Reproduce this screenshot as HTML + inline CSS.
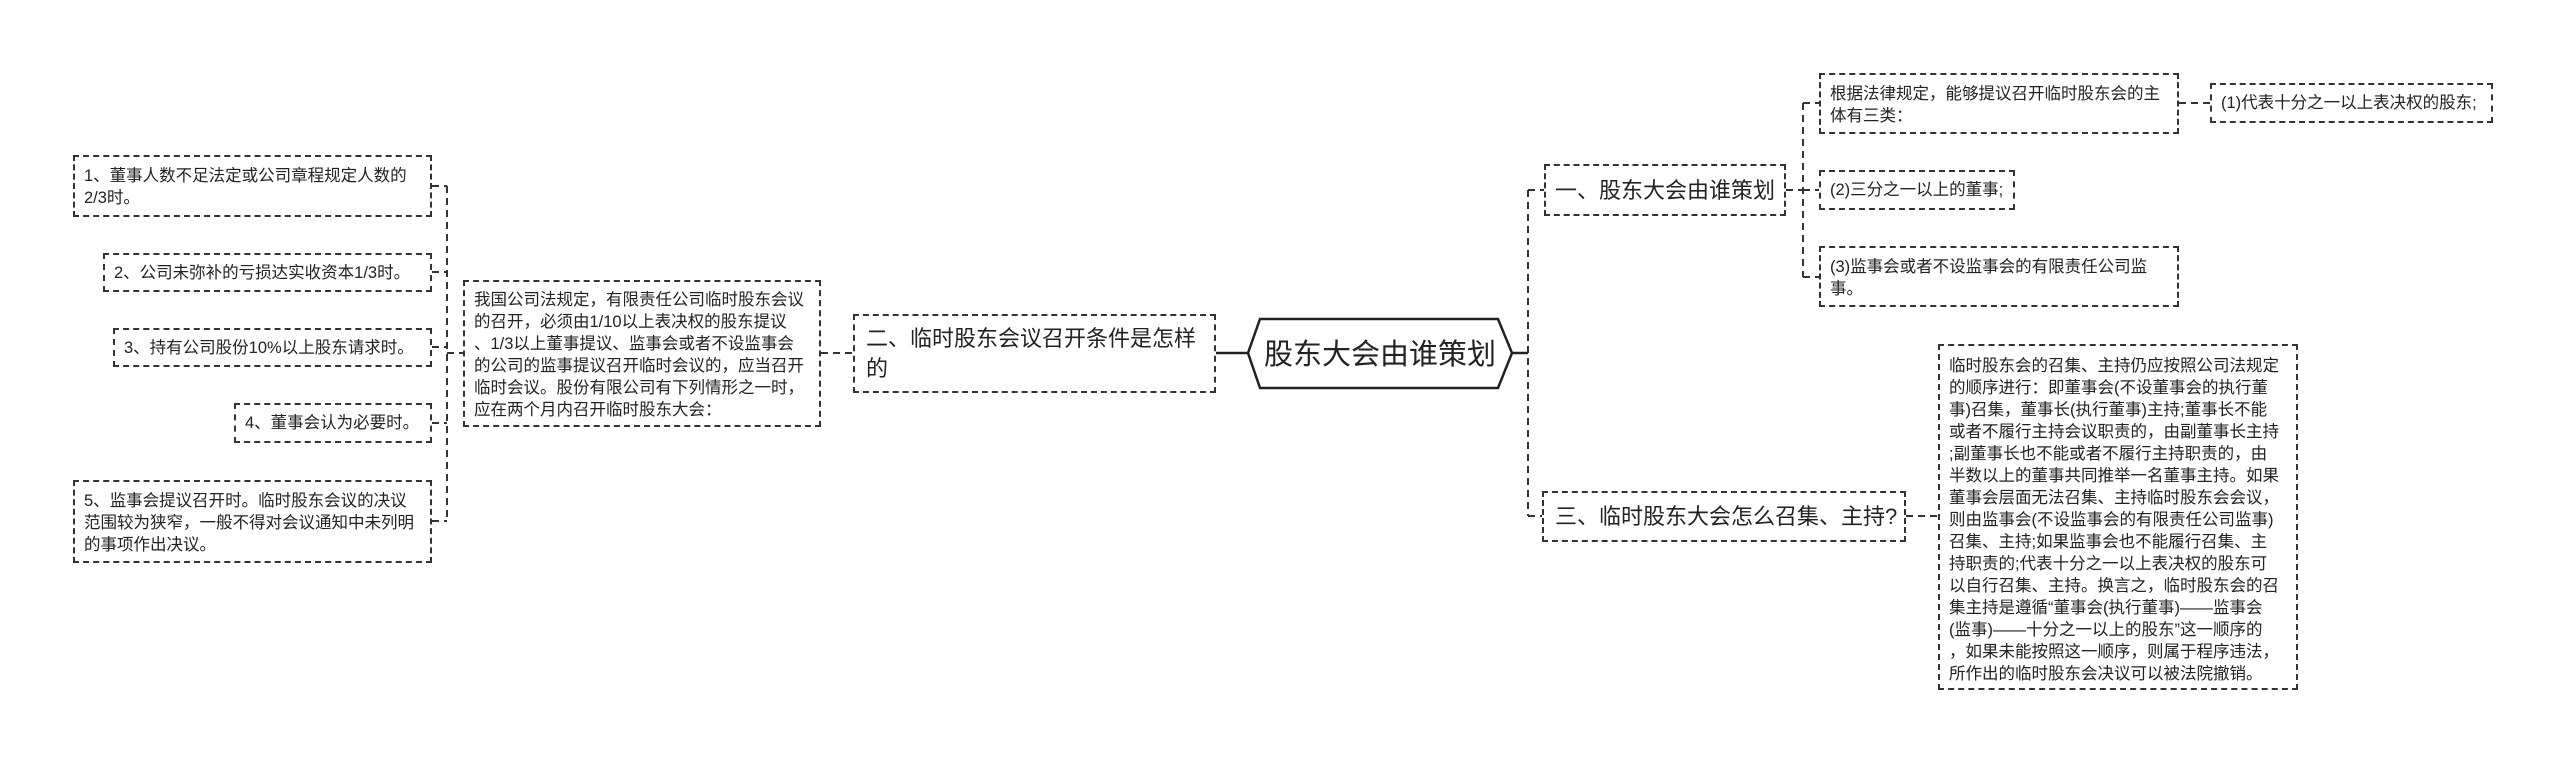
<!DOCTYPE html>
<html><head><meta charset="utf-8">
<style>
html,body{margin:0;padding:0;background:#fff;}
body{width:2560px;height:763px;position:relative;overflow:hidden;font-family:"Liberation Sans","Noto Sans CJK SC",sans-serif;color:#222;}
.b{position:absolute;box-sizing:border-box;border:2px dashed #333;background:#fff;font-size:16.5px;line-height:22px;padding:8px 9px;white-space:nowrap;}
.m{font-size:22px;line-height:30px;padding:10px 11px;}
svg{position:absolute;left:0;top:0;}
</style></head><body>
<svg width="2560" height="763">
<g stroke="#333" stroke-width="2" fill="none" stroke-dasharray="7,5">
<line x1="447" y1="186" x2="447" y2="521"/>
<line x1="432" y1="186" x2="447" y2="186"/>
<line x1="432" y1="272" x2="447" y2="272"/>
<line x1="432" y1="347" x2="447" y2="347"/>
<line x1="432" y1="423" x2="447" y2="423"/>
<line x1="432" y1="521" x2="447" y2="521"/>
<line x1="447" y1="353" x2="463" y2="353"/>
<line x1="821" y1="353" x2="853" y2="353"/>
<line x1="1528" y1="190" x2="1528" y2="516"/>
<line x1="1528" y1="190" x2="1544" y2="190"/>
<line x1="1528" y1="516" x2="1542" y2="516"/>
<line x1="1786" y1="190" x2="1803" y2="190"/>
<line x1="1803" y1="103" x2="1803" y2="277"/>
<line x1="1803" y1="103" x2="1819" y2="103"/>
<line x1="1803" y1="190" x2="1819" y2="190"/>
<line x1="1803" y1="277" x2="1819" y2="277"/>
<line x1="2179" y1="103" x2="2210" y2="103"/>
<line x1="1906" y1="516" x2="1938" y2="516"/>
</g>
<g stroke="#222" stroke-width="2.5" fill="none">
<line x1="1216" y1="353" x2="1248" y2="353"/>
<line x1="1512" y1="353" x2="1528" y2="353"/>
<polygon points="1248,353 1260,319 1498,319 1512,353 1498,388 1260,388" fill="#fff"/>
</g>
<text x="1380" y="364" font-size="29" text-anchor="middle" fill="#222" font-family="Liberation Sans, Noto Sans CJK SC, sans-serif">股东大会由谁策划</text>
</svg>

<div class="b" style="left:73px;top:155px;width:359px;height:62px;">1、董事人数不足法定或公司章程规定人数的<br>2/3时。</div>
<div class="b" style="left:103px;top:253px;width:329px;height:39px;padding-top:7px;">2、公司未弥补的亏损达实收资本1/3时。</div>
<div class="b" style="left:113px;top:328px;width:319px;height:39px;padding-top:7px;">3、持有公司股份10%以上股东请求时。</div>
<div class="b" style="left:234px;top:403px;width:198px;height:40px;padding-top:7px;">4、董事会认为必要时。</div>
<div class="b" style="left:73px;top:480px;width:359px;height:83px;">5、监事会提议召开时。临时股东会议的决议<br>范围较为狭窄，一般不得对会议通知中未列明<br>的事项作出决议。</div>
<div class="b" style="left:463px;top:280px;width:358px;height:147px;padding:7px 9px;">我国公司法规定，有限责任公司临时股东会议<br>的召开，必须由1/10以上表决权的股东提议<br>、1/3以上董事提议、监事会或者不设监事会<br>的公司的监事提议召开临时会议的，应当召开<br>临时会议。股份有限公司有下列情形之一时，<br>应在两个月内召开临时股东大会：</div>
<div class="b m" style="left:853px;top:314px;width:363px;height:79px;padding:8px 11px;">二、临时股东会议召开条件是怎样<br>的</div>

<div class="b m" style="left:1544px;top:164px;width:242px;height:52px;padding:10px 9px;">一、股东大会由谁策划</div>
<div class="b" style="left:1819px;top:73px;width:360px;height:61px;">根据法律规定，能够提议召开临时股东会的主<br>体有三类：</div>
<div class="b" style="left:2210px;top:83px;width:283px;height:40px;padding-top:7px;">(1)代表十分之一以上表决权的股东;</div>
<div class="b" style="left:1819px;top:170px;width:196px;height:40px;padding-top:7px;">(2)三分之一以上的董事;</div>
<div class="b" style="left:1819px;top:246px;width:360px;height:61px;">(3)监事会或者不设监事会的有限责任公司监<br>事。</div>
<div class="b m" style="left:1542px;top:491px;width:364px;height:51px;padding:9px 11px;">三、临时股东大会怎么召集、主持?</div>
<div class="b" style="left:1938px;top:344px;width:360px;height:346px;padding:9px 9px;">临时股东会的召集、主持仍应按照公司法规定<br>的顺序进行：即董事会(不设董事会的执行董<br>事)召集，董事长(执行董事)主持;董事长不能<br>或者不履行主持会议职责的，由副董事长主持<br>;副董事长也不能或者不履行主持职责的，由<br>半数以上的董事共同推举一名董事主持。如果<br>董事会层面无法召集、主持临时股东会会议，<br>则由监事会(不设监事会的有限责任公司监事)<br>召集、主持;如果监事会也不能履行召集、主<br>持职责的;代表十分之一以上表决权的股东可<br>以自行召集、主持。换言之，临时股东会的召<br>集主持是遵循“董事会(执行董事)——监事会<br>(监事)——十分之一以上的股东”这一顺序的<br>，如果未能按照这一顺序，则属于程序违法，<br>所作出的临时股东会决议可以被法院撤销。</div>
</body></html>
